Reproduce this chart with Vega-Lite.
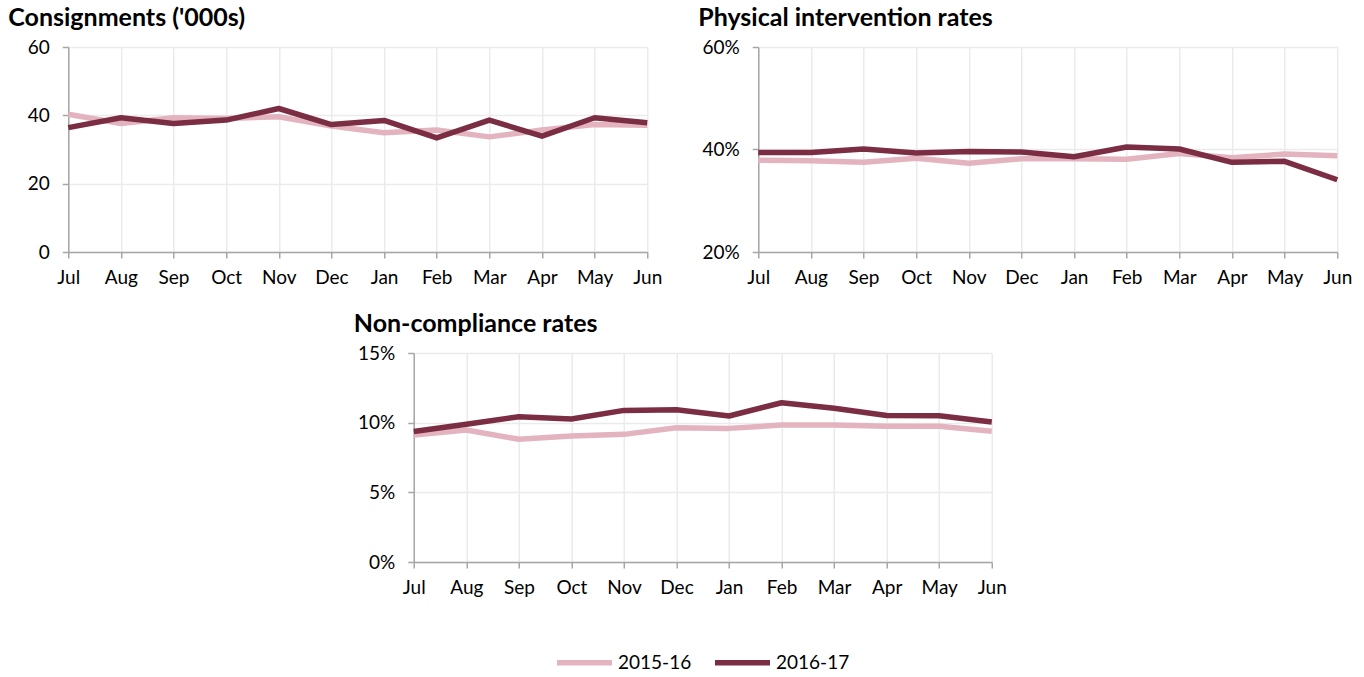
{
  "$schema": "https://vega.github.io/schema/vega-lite/v6.json",
  "background": "white",
  "padding": {"left": 8, "top": 6, "right": 10, "bottom": 5},
  "config": {
    "font": "Lato",
    "view": {"stroke": null},
    "axis": {
      "labelFont": "Lato",
      "labelFontSize": 19,
      "labelColor": "#000000",
      "domainColor": "#A6A6A6",
      "domainWidth": 1.5,
      "tickColor": "#A6A6A6",
      "tickWidth": 1.5,
      "tickSize": 6,
      "gridColor": "#EBEBEB",
      "gridWidth": 1.5,
      "title": null
    },
    "axisX": {"labelPadding": 10, "labelAngle": 0},
    "axisY": {"labelPadding": 13},
    "title": {
      "font": "Lato",
      "fontSize": 25,
      "fontWeight": "bold",
      "color": "#000000",
      "anchor": "start",
      "frame": "group",
      "dx": -60,
      "offset": 7
    },
    "line": {"strokeWidth": 5.5, "strokeCap": "butt", "strokeJoin": "round"}
  },
  "datasets": {
    "series": [
      {"panel": "cons", "month": "Jul", "year": "2015-16", "value": 40.3},
      {"panel": "cons", "month": "Aug", "year": "2015-16", "value": 37.6},
      {"panel": "cons", "month": "Sep", "year": "2015-16", "value": 39.3},
      {"panel": "cons", "month": "Oct", "year": "2015-16", "value": 39.1},
      {"panel": "cons", "month": "Nov", "year": "2015-16", "value": 39.6},
      {"panel": "cons", "month": "Dec", "year": "2015-16", "value": 36.9},
      {"panel": "cons", "month": "Jan", "year": "2015-16", "value": 34.9},
      {"panel": "cons", "month": "Feb", "year": "2015-16", "value": 35.7},
      {"panel": "cons", "month": "Mar", "year": "2015-16", "value": 33.7},
      {"panel": "cons", "month": "Apr", "year": "2015-16", "value": 35.7},
      {"panel": "cons", "month": "May", "year": "2015-16", "value": 37.3},
      {"panel": "cons", "month": "Jun", "year": "2015-16", "value": 37.1},
      {"panel": "cons", "month": "Jul", "year": "2016-17", "value": 36.4},
      {"panel": "cons", "month": "Aug", "year": "2016-17", "value": 39.3},
      {"panel": "cons", "month": "Sep", "year": "2016-17", "value": 37.6},
      {"panel": "cons", "month": "Oct", "year": "2016-17", "value": 38.6},
      {"panel": "cons", "month": "Nov", "year": "2016-17", "value": 42.0},
      {"panel": "cons", "month": "Dec", "year": "2016-17", "value": 37.3},
      {"panel": "cons", "month": "Jan", "year": "2016-17", "value": 38.5},
      {"panel": "cons", "month": "Feb", "year": "2016-17", "value": 33.4},
      {"panel": "cons", "month": "Mar", "year": "2016-17", "value": 38.6},
      {"panel": "cons", "month": "Apr", "year": "2016-17", "value": 33.9},
      {"panel": "cons", "month": "May", "year": "2016-17", "value": 39.3},
      {"panel": "cons", "month": "Jun", "year": "2016-17", "value": 37.8},
      {"panel": "phys", "month": "Jul", "year": "2015-16", "value": 0.379},
      {"panel": "phys", "month": "Aug", "year": "2015-16", "value": 0.378},
      {"panel": "phys", "month": "Sep", "year": "2015-16", "value": 0.375},
      {"panel": "phys", "month": "Oct", "year": "2015-16", "value": 0.383},
      {"panel": "phys", "month": "Nov", "year": "2015-16", "value": 0.373},
      {"panel": "phys", "month": "Dec", "year": "2015-16", "value": 0.382},
      {"panel": "phys", "month": "Jan", "year": "2015-16", "value": 0.382},
      {"panel": "phys", "month": "Feb", "year": "2015-16", "value": 0.381},
      {"panel": "phys", "month": "Mar", "year": "2015-16", "value": 0.392},
      {"panel": "phys", "month": "Apr", "year": "2015-16", "value": 0.384},
      {"panel": "phys", "month": "May", "year": "2015-16", "value": 0.391},
      {"panel": "phys", "month": "Jun", "year": "2015-16", "value": 0.388},
      {"panel": "phys", "month": "Jul", "year": "2016-17", "value": 0.394},
      {"panel": "phys", "month": "Aug", "year": "2016-17", "value": 0.394},
      {"panel": "phys", "month": "Sep", "year": "2016-17", "value": 0.401},
      {"panel": "phys", "month": "Oct", "year": "2016-17", "value": 0.393},
      {"panel": "phys", "month": "Nov", "year": "2016-17", "value": 0.396},
      {"panel": "phys", "month": "Dec", "year": "2016-17", "value": 0.395},
      {"panel": "phys", "month": "Jan", "year": "2016-17", "value": 0.386},
      {"panel": "phys", "month": "Feb", "year": "2016-17", "value": 0.405},
      {"panel": "phys", "month": "Mar", "year": "2016-17", "value": 0.401},
      {"panel": "phys", "month": "Apr", "year": "2016-17", "value": 0.375},
      {"panel": "phys", "month": "May", "year": "2016-17", "value": 0.377},
      {"panel": "phys", "month": "Jun", "year": "2016-17", "value": 0.341},
      {"panel": "nonc", "month": "Jul", "year": "2015-16", "value": 0.0912},
      {"panel": "nonc", "month": "Aug", "year": "2015-16", "value": 0.0947},
      {"panel": "nonc", "month": "Sep", "year": "2015-16", "value": 0.0881},
      {"panel": "nonc", "month": "Oct", "year": "2015-16", "value": 0.0905},
      {"panel": "nonc", "month": "Nov", "year": "2015-16", "value": 0.0916},
      {"panel": "nonc", "month": "Dec", "year": "2015-16", "value": 0.0964},
      {"panel": "nonc", "month": "Jan", "year": "2015-16", "value": 0.0959},
      {"panel": "nonc", "month": "Feb", "year": "2015-16", "value": 0.0983},
      {"panel": "nonc", "month": "Mar", "year": "2015-16", "value": 0.0983},
      {"panel": "nonc", "month": "Apr", "year": "2015-16", "value": 0.0974},
      {"panel": "nonc", "month": "May", "year": "2015-16", "value": 0.0974},
      {"panel": "nonc", "month": "Jun", "year": "2015-16", "value": 0.0938},
      {"panel": "nonc", "month": "Jul", "year": "2016-17", "value": 0.0936},
      {"panel": "nonc", "month": "Aug", "year": "2016-17", "value": 0.0988},
      {"panel": "nonc", "month": "Sep", "year": "2016-17", "value": 0.1043},
      {"panel": "nonc", "month": "Oct", "year": "2016-17", "value": 0.1026},
      {"panel": "nonc", "month": "Nov", "year": "2016-17", "value": 0.1088},
      {"panel": "nonc", "month": "Dec", "year": "2016-17", "value": 0.1093},
      {"panel": "nonc", "month": "Jan", "year": "2016-17", "value": 0.1048},
      {"panel": "nonc", "month": "Feb", "year": "2016-17", "value": 0.1143},
      {"panel": "nonc", "month": "Mar", "year": "2016-17", "value": 0.1103},
      {"panel": "nonc", "month": "Apr", "year": "2016-17", "value": 0.1052},
      {"panel": "nonc", "month": "May", "year": "2016-17", "value": 0.1050},
      {"panel": "nonc", "month": "Jun", "year": "2016-17", "value": 0.1005}
    ]
  },
  "center": true,
  "spacing": 25,
  "resolve": {"scale": {"color": "shared"}},
  "vconcat": [
    {
      "bounds": "flush",
      "spacing": 111,
      "hconcat": [
        {
          "title": {"text": "Consignments ('000s)"},
          "width": 579,
          "height": 205,
          "data": {"name": "series"},
          "transform": [{"filter": "datum.panel === 'cons'"}],
          "mark": {"type": "line"},
          "encoding": {
            "x": {"field": "month", "type": "ordinal", "sort": ["Jul","Aug","Sep","Oct","Nov","Dec","Jan","Feb","Mar","Apr","May","Jun"], "scale": {"type": "point", "padding": 0}, "axis": {"grid": true}},
            "y": {"field": "value", "type": "quantitative", "scale": {"domain": [0, 60], "nice": false, "zero": false}, "axis": {"values": [0, 20, 40, 60], "format": "d"}},
            "color": {"field": "year", "type": "nominal", "scale": {"domain": ["2015-16", "2016-17"], "range": ["#E3B4BF", "#7B2D44"]},
              "legend": {"orient": "none", "legendX": 486, "legendY": 585, "direction": "horizontal", "title": null, "symbolType": "stroke", "symbolSize": 3025, "symbolStrokeWidth": 6, "labelFont": "Lato", "labelFontSize": 19, "labelColor": "#000000", "columnPadding": 20, "labelOffset": 3}}
          }
        },
        {
          "title": {"text": "Physical intervention rates"},
          "width": 579,
          "height": 205,
          "data": {"name": "series"},
          "transform": [{"filter": "datum.panel === 'phys'"}],
          "mark": {"type": "line"},
          "encoding": {
            "x": {"field": "month", "type": "ordinal", "sort": ["Jul","Aug","Sep","Oct","Nov","Dec","Jan","Feb","Mar","Apr","May","Jun"], "scale": {"type": "point", "padding": 0}, "axis": {"grid": true}},
            "y": {"field": "value", "type": "quantitative", "scale": {"domain": [0.2, 0.6], "nice": false, "zero": false}, "axis": {"values": [0.2, 0.4, 0.6], "format": ".0%"}},
            "color": {"field": "year", "type": "nominal"}
          }
        }
      ]
    },
    {
      "title": {"text": "Non-compliance rates"},
      "width": 578,
      "height": 209,
      "data": {"name": "series"},
      "transform": [{"filter": "datum.panel === 'nonc'"}],
      "mark": {"type": "line"},
      "encoding": {
        "x": {"field": "month", "type": "ordinal", "sort": ["Jul","Aug","Sep","Oct","Nov","Dec","Jan","Feb","Mar","Apr","May","Jun"], "scale": {"type": "point", "padding": 0}, "axis": {"grid": true}},
        "y": {"field": "value", "type": "quantitative", "scale": {"domain": [0, 0.15], "nice": false, "zero": false}, "axis": {"values": [0, 0.05, 0.1, 0.15], "format": ".0%"}},
        "color": {"field": "year", "type": "nominal"}
      }
    }
  ]
}
